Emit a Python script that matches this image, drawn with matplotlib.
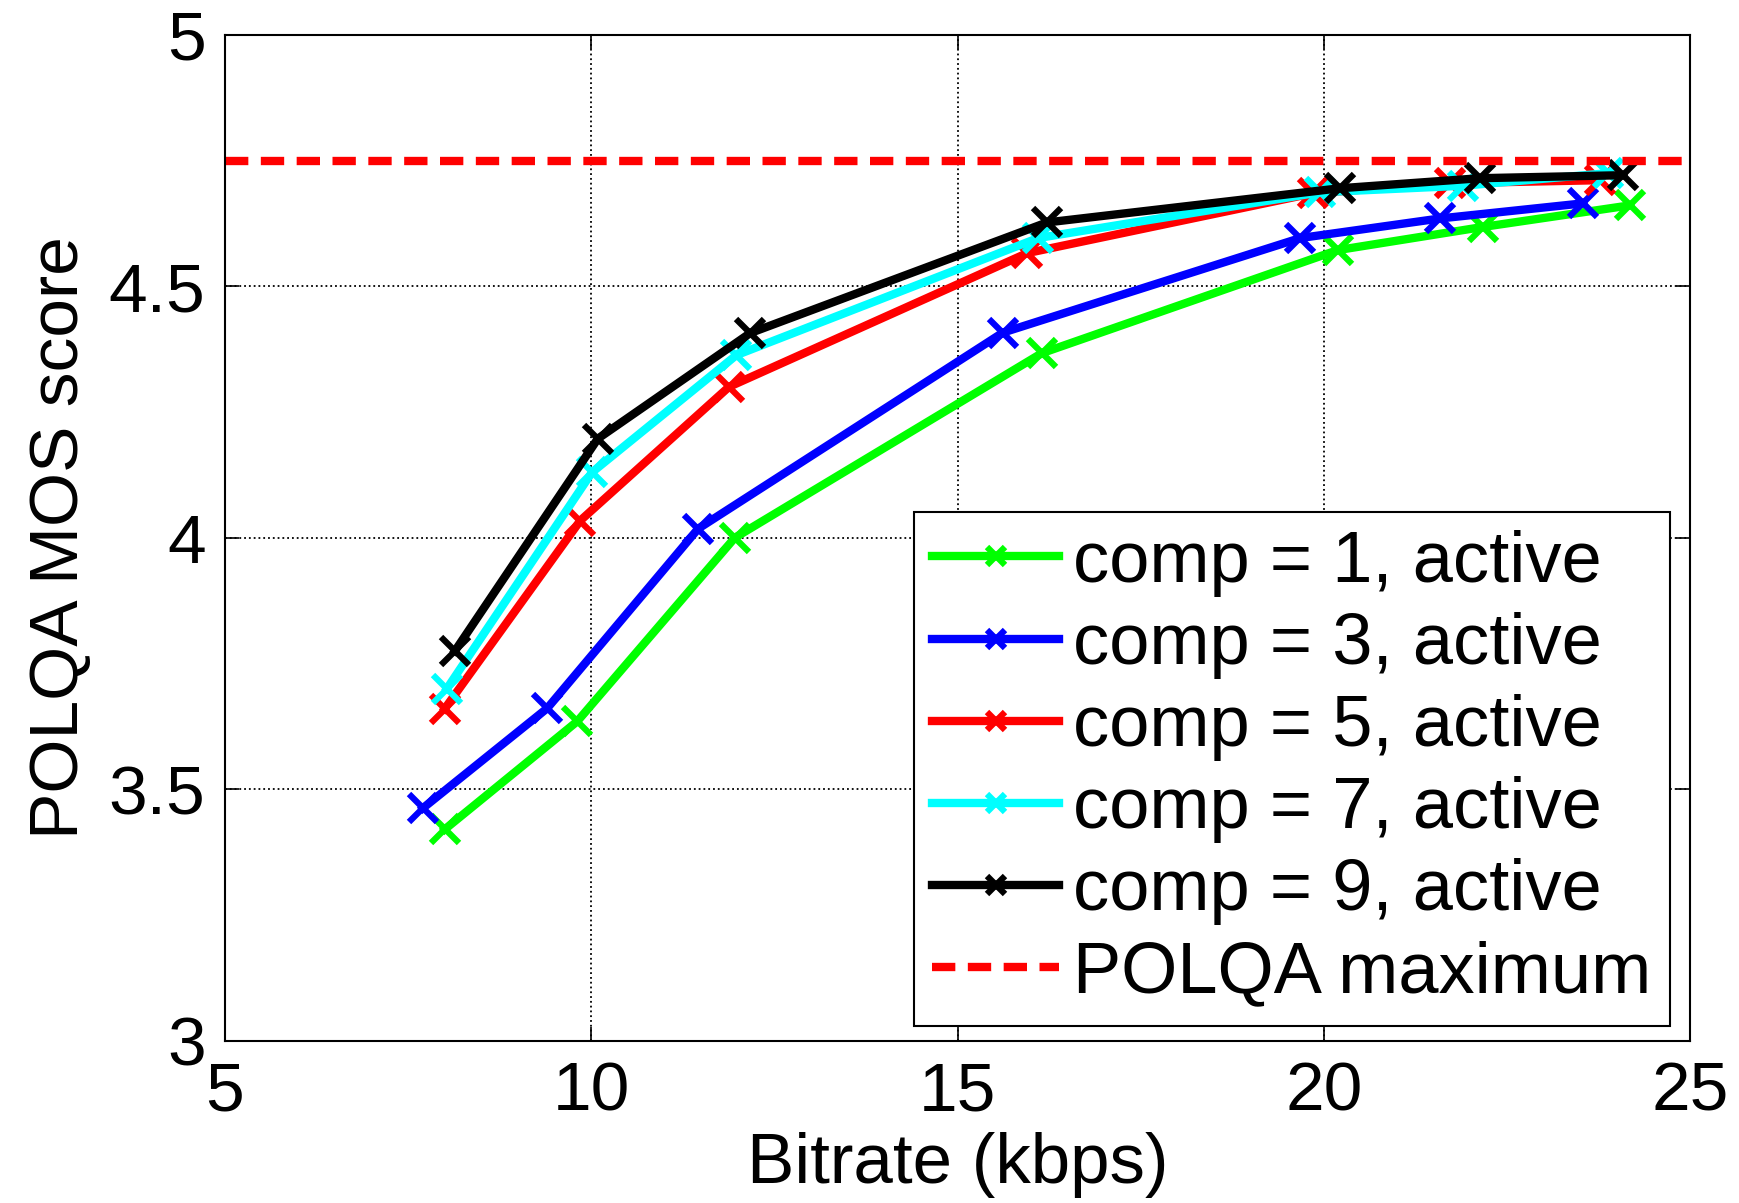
import matplotlib.pyplot as plt

plt.rcParams['font.family'] = ['Liberation Sans', 'DejaVu Sans']

# bitrate (kbps) and POLQA MOS per number of components
x_comp1 = [8.0, 9.81, 11.96, 16.15, 20.19, 22.17, 24.18]
y_comp1 = [3.42, 3.635, 4.00, 4.367, 4.572, 4.618, 4.661]
x_comp3 = [7.70, 9.40, 11.46, 15.62, 19.68, 21.59, 23.54]
y_comp3 = [3.462, 3.661, 4.018, 4.408, 4.596, 4.635, 4.665]
x_comp5 = [8.0, 9.85, 11.88, 15.95, 19.85, 21.72, 23.77]
y_comp5 = [3.66, 4.034, 4.30, 4.566, 4.685, 4.705, 4.711]
x_comp7 = [8.03, 10.01, 11.98, 16.10, 19.95, 21.9, 23.88]
y_comp7 = [3.70, 4.13, 4.363, 4.596, 4.687, 4.70, 4.725]
x_comp9 = [8.14, 10.09, 12.17, 16.22, 20.22, 22.13, 24.09]
y_comp9 = [3.775, 4.197, 4.407, 4.627, 4.695, 4.715, 4.721]
polqa_max = 4.75

series = [
    (x_comp1, y_comp1, '#00ff00', 'comp = 1, active'),
    (x_comp3, y_comp3, '#0000ff', 'comp = 3, active'),
    (x_comp5, y_comp5, '#ff0000', 'comp = 5, active'),
    (x_comp7, y_comp7, '#00ffff', 'comp = 7, active'),
    (x_comp9, y_comp9, '#000000', 'comp = 9, active'),
]

fig = plt.figure(figsize=(17.4, 12.03), dpi=100)
ax = fig.add_axes([0.1293, 0.135, 0.842, 0.836])

for xs, ys, c, lab in series:
    ax.plot(xs, ys, color=c, lw=6, marker='x', ms=20, mew=4.5, label=lab)

ax.axhline(polqa_max, color='#ff0000', lw=6, ls=(0, (2.8, 1.5)),
           label='POLQA maximum')

ax.set_xlim(5, 25)
ax.set_ylim(3, 5)
ax.set_xticks([5, 10, 15, 20, 25])
ax.set_yticks([3, 3.5, 4, 4.5, 5])
ax.set_yticklabels(['3', '3.5', '4', '4.5', '5'])
ax.grid(True, color='black', ls=':', lw=1.3)
ax.tick_params(direction='in', length=10, width=1.2, top=True, right=True,
               labelsize=50, pad=14)
for s in ax.spines.values():
    s.set_linewidth(1.5)

ax.set_xlabel('Bitrate (kbps)', fontsize=51, labelpad=6)
ax.set_ylabel('POLQA MOS score', fontsize=50, labelpad=12)

leg = ax.legend(loc='lower right', bbox_to_anchor=(0.986, 0.015),
                fontsize=52, handlelength=1.75, handletextpad=0.2,
                labelspacing=0.21, borderpad=0.25, borderaxespad=0,
                fancybox=False, framealpha=1, edgecolor='black')
leg.get_frame().set_linewidth(1.5)
for h in leg.get_lines():
    h.set_markersize(13)

fig.savefig('out.png', dpi=100)
